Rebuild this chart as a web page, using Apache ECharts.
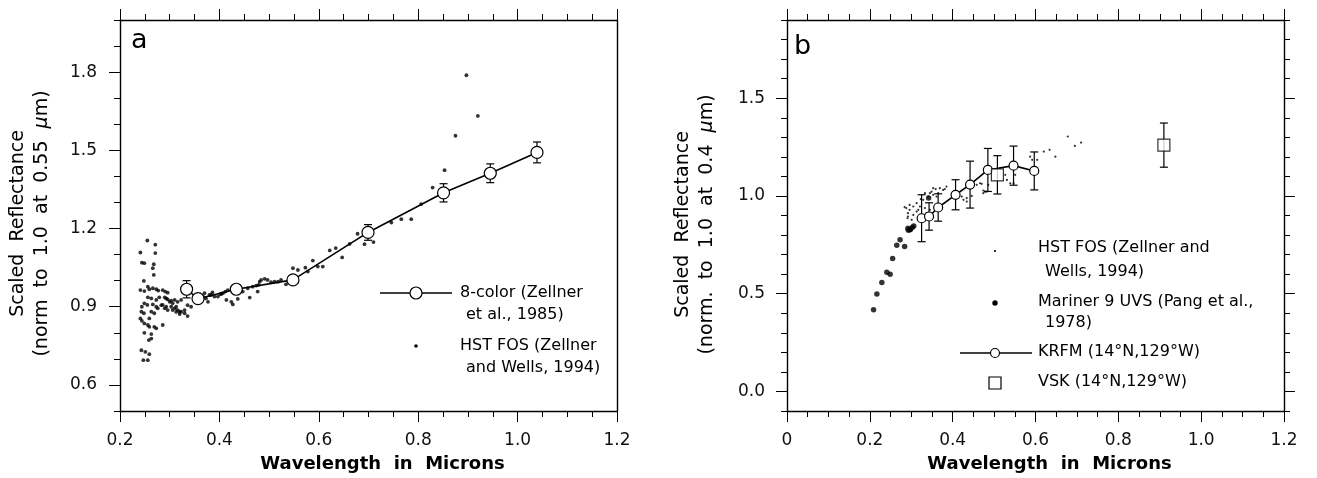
<!DOCTYPE html>
<html><head><meta charset="utf-8">
<script src="https://cdn.jsdelivr.net/npm/echarts@6/dist/echarts.min.js"></script>
<style>html,body{margin:0;padding:0;background:#fff}#c{width:1317px;height:478px}</style>
</head><body><div id="c"></div>
<script>
// ---------- Panel a data ----------
const aColorX   = [0.334, 0.357, 0.434, 0.548, 0.699, 0.851, 0.945, 1.039];
const aColorY   = [0.967, 0.931, 0.967, 1.003, 1.185, 1.337, 1.412, 1.492];
const aColorErr = [0.033, 0.015, 0.015, 0.015, 0.030, 0.035, 0.036, 0.040];
const aHstFos = [
 [0.255,1.154],[0.271,1.138],[0.241,1.108],[0.271,1.106],[0.244,1.069],[0.249,1.067],[0.268,1.063],[0.266,1.048],
 [0.268,1.022],[0.248,0.999],[0.241,0.964],[0.249,0.960],[0.256,0.977],[0.259,0.967],[0.266,0.971],[0.273,0.967],
 [0.277,0.962],[0.286,0.964],[0.291,0.958],[0.296,0.954],[0.256,0.936],[0.263,0.932],[0.273,0.926],[0.279,0.936],
 [0.290,0.936],[0.296,0.928],[0.303,0.923],[0.310,0.926],[0.316,0.919],[0.323,0.926],[0.249,0.913],[0.255,0.907],
 [0.244,0.900],[0.266,0.909],[0.273,0.900],[0.286,0.907],[0.290,0.894],[0.293,0.900],[0.296,0.887],[0.303,0.900],
 [0.310,0.894],[0.316,0.887],[0.323,0.881],[0.330,0.875],[0.336,0.864],[0.306,0.887],[0.313,0.880],[0.320,0.872],
 [0.243,0.881],[0.248,0.875],[0.263,0.881],[0.241,0.855],[0.244,0.846],[0.249,0.836],[0.256,0.830],[0.259,0.823],
 [0.269,0.823],[0.273,0.817],[0.286,0.830],[0.249,0.800],[0.263,0.795],[0.258,0.772],[0.263,0.778],[0.243,0.733],
 [0.251,0.727],[0.247,0.695],[0.256,0.695],[0.259,0.718],[0.343,0.900],[0.336,0.906],[0.330,0.887],[0.320,0.881],
 [0.313,0.900],[0.306,0.913],[0.300,0.919],[0.293,0.932],[0.283,0.906],[0.276,0.894],[0.269,0.875],[0.259,0.855],
 [0.377,0.919],[0.353,0.939],[0.370,0.952],[0.383,0.945],[0.397,0.939],[0.404,0.949],
 [0.367,0.939],[0.373,0.932],[0.380,0.945],[0.386,0.955],[0.390,0.939],[0.402,0.948],[0.407,0.952],[0.412,0.958],
 [0.417,0.964],[0.414,0.926],[0.424,0.919],[0.427,0.909],[0.437,0.930],[0.447,0.958],[0.461,0.935],[0.457,0.971],
 [0.467,0.977],[0.474,0.981],[0.479,0.984],[0.477,0.958],[0.484,1.003],[0.491,1.007],[0.497,1.003],[0.481,0.996],
 [0.504,0.994],[0.511,0.996],[0.518,0.996],[0.524,1.003],[0.534,0.986],[0.548,1.048],[0.558,1.041],[0.573,1.050],
 [0.578,1.035],[0.588,1.077],[0.598,1.054],[0.608,1.054],[0.622,1.116],[0.634,1.125],[0.647,1.089],[0.662,1.141],
 [0.678,1.180],[0.692,1.140],[0.710,1.148],[0.746,1.223],[0.766,1.236],[0.786,1.236],[0.806,1.294],[0.829,1.357],
 [0.853,1.424],[0.875,1.556],[0.897,1.788],[0.920,1.632]
];

// ---------- Panel b data ----------
const bKrfmX   = [0.325, 0.343, 0.365, 0.407, 0.442, 0.485, 0.547, 0.597];
const bKrfmY   = [0.886, 0.895, 0.941, 1.006, 1.058, 1.133, 1.155, 1.128];
const bKrfmErr = [0.120, 0.070, 0.070, 0.077, 0.120, 0.110, 0.100, 0.097];
const bVskX    = [0.508, 0.910];
const bVskY    = [1.108, 1.260];
const bVskErr  = [0.098, 0.113];
const bMariner = [
 [0.209,0.418],[0.217,0.499],[0.229,0.557],[0.241,0.610],[0.249,0.600],[0.255,0.680],[0.265,0.748],[0.273,0.776],
 [0.284,0.741],[0.293,0.825],[0.298,0.830],[0.303,0.840],[0.306,0.846],[0.292,0.835],[0.297,0.827],[0.342,0.990]
];
const bHstFos = [
 [0.288,0.938],[0.292,0.912],[0.296,0.929],[0.291,0.886],[0.301,0.878],[0.305,0.946],[0.313,0.963],[0.317,0.929],
 [0.323,0.984],[0.333,1.014],[0.341,0.997],[0.349,1.022],[0.353,1.006],[0.359,1.035],[0.365,1.014],[0.369,1.040],
 [0.381,1.035],[0.333,0.938],[0.337,0.912],[0.345,0.929],[0.329,0.980],[0.422,0.997],[0.426,0.980],[0.434,0.971],
 [0.446,1.000],[0.458,1.057],[0.470,1.062],[0.474,1.028],[0.486,1.057],[0.478,1.022],[0.527,1.108],[0.539,1.065],
 [0.551,1.108],[0.284,0.943],[0.292,0.895],[0.296,0.954],[0.305,0.903],[0.313,0.920],[0.321,0.946],[0.345,1.014],
 [0.353,1.040],[0.361,0.997],[0.377,1.031],[0.385,1.048],[0.434,0.989],[0.466,1.065],[0.474,1.014],[0.547,1.065],
 [0.482,1.022],[0.531,1.082],[0.587,1.201],[0.592,1.185],[0.604,1.185],[0.620,1.227],[0.634,1.236],[0.648,1.201],
 [0.678,1.304],[0.695,1.256],[0.710,1.273]
];

// ---------- Axis tick labels ----------
const aXLabels = [0.2, 0.4, 0.6, 0.8, 1.0, 1.2];
const aYLabels = [0.6, 0.9, 1.2, 1.5, 1.8];
const bXLabels = [0, 0.2, 0.4, 0.6, 0.8, 1.0, 1.2];
const bYLabels = [0, 0.5, 1.0, 1.5];

const FONT = 'DejaVu Sans';
const MAJ = 11, MIN = 6;
const lineSt = {color:'#000', width:1.4};

function xAx(grid, pos, min, max, interval, major, opts) {
  return Object.assign({
    type:'value', gridIndex:grid, position:pos, min:min, max:max, interval:interval,
    axisLine:{show:major, onZero:false, lineStyle:lineSt},
    axisTick:{show:true, length: major?MAJ:MIN, lineStyle:{color:'#000', width:1}},
    axisLabel:{show:false}, splitLine:{show:false}
  }, opts||{});
}
function yAx(grid, pos, min, max, opts) {
  return Object.assign({
    type:'value', gridIndex:grid, position:pos, min:min, max:max,
    axisLine:{show:true, onZero:false, lineStyle:lineSt},
    axisTick:{show:false}, axisLabel:{show:false}, splitLine:{show:false}
  }, opts||{});
}
const lblStyle = {color:'#111', fontFamily:FONT, fontSize:17};
const xName = 'Wavelength  in  Microns';
const xNameStyle = {color:'#000', fontFamily:FONT, fontSize:18, fontWeight:'bold', padding:[0,0,0,28]};
const fmt1 = v => (v === 0 ? '0' : v.toFixed(1));

function errBars(xs, ys, es) { return xs.map((x,i) => [x, ys[i]-es[i], ys[i]+es[i]]); }
function errRender(params, api) {
  const x = api.value(0), lo = api.value(1), hi = api.value(2);
  const p1 = api.coord([x, lo]), p2 = api.coord([x, hi]);
  const w = 4, st = {stroke:'#000', lineWidth:1.2};
  return {type:'group', children:[
    {type:'line', shape:{x1:p1[0], y1:p1[1], x2:p2[0], y2:p2[1]}, style:st},
    {type:'line', shape:{x1:p1[0]-w, y1:p1[1], x2:p1[0]+w, y2:p1[1]}, style:st},
    {type:'line', shape:{x1:p2[0]-w, y1:p2[1], x2:p2[0]+w, y2:p2[1]}, style:st}
  ]};
}
function zip(xs, ys) { return xs.map((x,i) => [x, ys[i]]); }

const option = {
  animation:false,
  backgroundColor:'#fff',
  grid:[
    {left:120, top:20, width:497, height:392},
    {left:787, top:20, width:497, height:392}
  ],
  xAxis:[
    xAx(0,'bottom',0.2,1.2,0.2,true,{axisLabel:{show:true, margin:21, formatter:fmt1, ...lblStyle},
       name:xName, nameLocation:'middle', nameGap:44, nameTextStyle:xNameStyle}),
    xAx(0,'bottom',0.2,1.2,0.05,false),
    xAx(0,'top',0.2,1.2,0.2,true),
    xAx(0,'top',0.2,1.2,0.05,false),
    xAx(1,'bottom',0,1.2,0.2,true,{axisLabel:{show:true, margin:21, formatter:fmt1, ...lblStyle},
       name:xName, nameLocation:'middle', nameGap:44, nameTextStyle:xNameStyle}),
    xAx(1,'bottom',0,1.2,0.05,false),
    xAx(1,'top',0,1.2,0.2,true),
    xAx(1,'top',0,1.2,0.05,false)
  ],
  yAxis:[
    yAx(0,'left',0.5,2.0,{interval:0.1,
      axisTick:{show:true, length:MAJ, customValues:aYLabels, lineStyle:{color:'#000'}},
      axisLabel:{show:true, margin:23, customValues:aYLabels, formatter:v=>v.toFixed(1), ...lblStyle},
      name:'{n|Scaled  Reflectance}\n{n|(norm  to  1.0  at  0.55  }{i|μ}{n|m)}',
      nameLocation:'middle', nameGap:66,
      nameTextStyle:{padding:[0,16,0,0], rich:{
        n:{fontFamily:FONT, fontSize:19, color:'#000', lineHeight:24},
        i:{fontFamily:FONT, fontSize:19, color:'#000', lineHeight:24, fontStyle:'italic'}}}}),
    yAx(0,'left',0.5,2.0,{interval:0.1, axisLine:{show:false, onZero:false},
      axisTick:{show:true, length:MIN, lineStyle:{color:'#000'}}}),
    yAx(0,'right',0.5,2.0,{interval:0.1}),
    yAx(1,'left',-0.1,1.9,{interval:0.1,
      axisTick:{show:true, length:MAJ, customValues:bYLabels, lineStyle:{color:'#000'}},
      axisLabel:{show:true, margin:22, customValues:bYLabels, formatter:v=>v.toFixed(1), ...lblStyle},
      name:'{n|Scaled  Reflectance}\n{n|(norm.  to  1.0  at  0.4  }{i|μ}{n|m)}',
      nameLocation:'middle', nameGap:68,
      nameTextStyle:{padding:[0,18,0,0], rich:{
        n:{fontFamily:FONT, fontSize:19, color:'#000', lineHeight:24},
        i:{fontFamily:FONT, fontSize:19, color:'#000', lineHeight:24, fontStyle:'italic'}}}}),
    yAx(1,'left',-0.1,1.9,{interval:0.1, axisLine:{show:false, onZero:false},
      axisTick:{show:true, length:MIN, lineStyle:{color:'#000'}}}),
    yAx(1,'right',-0.1,1.9,{interval:0.1,
      axisTick:{show:true, length:MAJ, customValues:bYLabels, lineStyle:{color:'#000'}}}),
    yAx(1,'right',-0.1,1.9,{interval:0.1, axisLine:{show:false, onZero:false},
      axisTick:{show:true, length:MIN, lineStyle:{color:'#000'}}})
  ],
  series:[
    // panel a
    {name:'HST FOS a', type:'scatter', xAxisIndex:0, yAxisIndex:0, data:aHstFos,
      symbol:'circle', symbolSize:3.8, itemStyle:{color:'#000'}, z:1},
    {name:'8-color err', type:'custom', xAxisIndex:0, yAxisIndex:0, renderItem:errRender,
      encode:{x:0, y:[1,2]}, data:errBars(aColorX, aColorY, aColorErr), z:2},
    {name:'8-color', type:'line', xAxisIndex:0, yAxisIndex:0, data:zip(aColorX, aColorY),
      symbol:'circle', symbolSize:12, showSymbol:true,
      itemStyle:{color:'#fff', borderColor:'#000', borderWidth:1.2},
      lineStyle:{color:'#000', width:1.6}, z:3},
    // panel b
    {name:'HST FOS b', type:'scatter', xAxisIndex:4, yAxisIndex:3, data:bHstFos,
      symbol:'circle', symbolSize:2.2, itemStyle:{color:'#000'}, z:1},
    {name:'Mariner 9 UVS', type:'scatter', xAxisIndex:4, yAxisIndex:3, data:bMariner,
      symbol:'circle', symbolSize:5.5, itemStyle:{color:'#000'}, z:1},
    {name:'KRFM err', type:'custom', xAxisIndex:4, yAxisIndex:3, renderItem:errRender,
      encode:{x:0, y:[1,2]}, data:errBars(bKrfmX, bKrfmY, bKrfmErr), z:2},
    {name:'VSK err', type:'custom', xAxisIndex:4, yAxisIndex:3, renderItem:errRender,
      encode:{x:0, y:[1,2]}, data:errBars(bVskX, bVskY, bVskErr), z:2},
    {name:'KRFM', type:'line', xAxisIndex:4, yAxisIndex:3, data:zip(bKrfmX, bKrfmY),
      symbol:'circle', symbolSize:9, showSymbol:true,
      itemStyle:{color:'#fff', borderColor:'#000', borderWidth:1.2},
      lineStyle:{color:'#000', width:1.6}, z:3},
    {name:'VSK', type:'scatter', xAxisIndex:4, yAxisIndex:3, data:zip(bVskX, bVskY),
      symbol:'rect', symbolSize:12,
      itemStyle:{color:'#fff', borderColor:'#000', borderWidth:1.2}, z:4}
  ],
  graphic:[
    {type:'text', x:131, y:41, style:{text:'a', font:'27px "DejaVu Sans"', fill:'#000', align:'left', verticalAlign:'middle'}},
    {type:'text', x:794, y:47, style:{text:'b', font:'27px "DejaVu Sans"', fill:'#000', align:'left', verticalAlign:'middle'}},
    // legend a
    {type:'line', shape:{x1:380, y1:293, x2:452, y2:293}, style:{stroke:'#000', lineWidth:1.6}},
    {type:'circle', shape:{cx:416, cy:293, r:6}, style:{fill:'#fff', stroke:'#000', lineWidth:1.2}},
    {type:'text', x:460, y:293, style:{text:'8-color (Zellner', font:'16px "DejaVu Sans"', fill:'#000', verticalAlign:'middle'}},
    {type:'text', x:466, y:315, style:{text:'et al., 1985)', font:'16px "DejaVu Sans"', fill:'#000', verticalAlign:'middle'}},
    {type:'circle', shape:{cx:416, cy:346, r:1.8}, style:{fill:'#000'}},
    {type:'text', x:460, y:346, style:{text:'HST FOS (Zellner', font:'16px "DejaVu Sans"', fill:'#000', verticalAlign:'middle'}},
    {type:'text', x:466, y:368, style:{text:'and Wells, 1994)', font:'16px "DejaVu Sans"', fill:'#000', verticalAlign:'middle'}},
    // legend b
    {type:'circle', shape:{cx:995, cy:251, r:1.1}, style:{fill:'#000'}},
    {type:'text', x:1038, y:248, style:{text:'HST FOS (Zellner and', font:'16px "DejaVu Sans"', fill:'#000', verticalAlign:'middle'}},
    {type:'text', x:1045, y:272, style:{text:'Wells, 1994)', font:'16px "DejaVu Sans"', fill:'#000', verticalAlign:'middle'}},
    {type:'circle', shape:{cx:995, cy:303, r:2.7}, style:{fill:'#000'}},
    {type:'text', x:1038, y:302, style:{text:'Mariner 9 UVS (Pang et al.,', font:'16px "DejaVu Sans"', fill:'#000', verticalAlign:'middle'}},
    {type:'text', x:1045, y:323, style:{text:'1978)', font:'16px "DejaVu Sans"', fill:'#000', verticalAlign:'middle'}},
    {type:'line', shape:{x1:960, y1:353, x2:1032, y2:353}, style:{stroke:'#000', lineWidth:1.4}},
    {type:'circle', shape:{cx:995, cy:353, r:4.5}, style:{fill:'#fff', stroke:'#000', lineWidth:1.2}},
    {type:'text', x:1038, y:352, style:{text:'KRFM (14°N,129°W)', font:'16px "DejaVu Sans"', fill:'#000', verticalAlign:'middle'}},
    {type:'rect', shape:{x:989, y:377, width:12, height:12}, style:{fill:'#fff', stroke:'#000', lineWidth:1.2}},
    {type:'text', x:1038, y:382, style:{text:'VSK (14°N,129°W)', font:'16px "DejaVu Sans"', fill:'#000', verticalAlign:'middle'}}
  ]
};
const chart = echarts.init(document.getElementById('c'), null, {renderer:'canvas'});
chart.setOption(option);
</script>
</body></html>
